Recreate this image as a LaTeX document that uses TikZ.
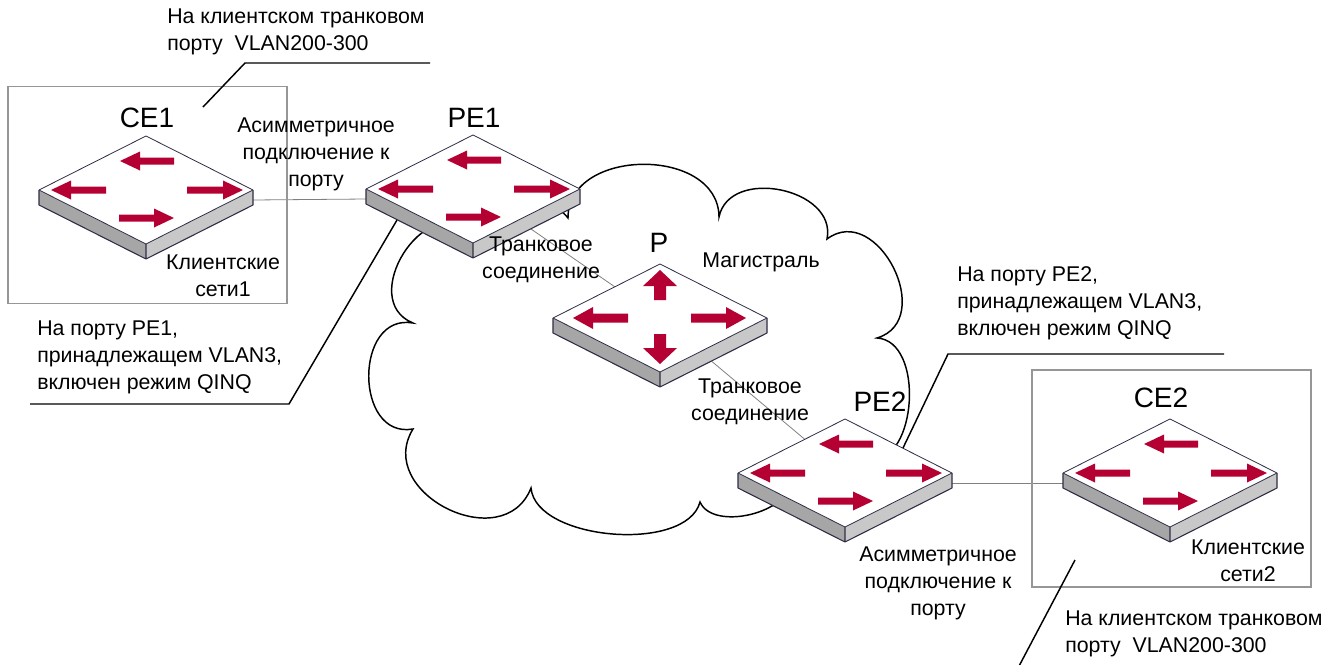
\documentclass[tikz,border=0pt]{standalone}
\usepackage{fontspec}
\setmainfont{Liberation Sans}
\usepackage{tikz}
\usetikzlibrary{positioning,backgrounds}

\definecolor{flowred}{RGB}{180,0,50}
\definecolor{sidedark}{RGB}{166,166,166}
\definecolor{sidelight}{RGB}{200,200,200}
\definecolor{edgeblue}{RGB}{45,45,70}
\definecolor{linkgray}{RGB}{128,128,128}
\definecolor{framegray}{RGB}{150,150,150}

% red flow arrow: tail, angle, length, shaft half width, head half width, head length
\newcommand{\flowarrow}[6]{%
  \fill[flowred, shift={(#1)}, rotate=#2]
    (0,-#4) -- (#3-#6,-#4) -- (#3-#6,-#5) -- (#3,0) -- (#3-#6,#5) -- (#3-#6,#4) -- (0,#4) -- cycle;}

% arrows on access switches
\newcommand{\edgeflows}{%
  \flowarrow{28,-29}{180}{54}{3.5}{9.5}{20}
  \flowarrow{-40,0}{180}{55}{3.5}{9.5}{20}
  \flowarrow{41,0}{0}{56}{3.5}{9.5}{20}
  \flowarrow{-27,28}{0}{55}{3.5}{9.5}{20}}
% arrows on the core switch
\newcommand{\coreflows}{%
  \flowarrow{0,-18}{90}{30}{6}{17}{16}
  \flowarrow{0,16}{-90}{30}{6}{17}{16}
  \flowarrow{-32,0}{180}{55}{4.5}{11}{20}
  \flowarrow{31,0}{0}{55}{4.5}{11}{20}}

\tikzset{
  pics/switch/.style={code={
    \fill[sidedark] (-107,0) -- (0,54) -- (0,69) -- (-107,15) -- cycle;
    \fill[sidelight] (0,54) -- (107,0) -- (107,15) -- (0,69) -- cycle;
    \draw[edgeblue, line width=0.8pt, line join=round]
      (-107,0) -- (-107,15) -- (0,69) -- (107,15) -- (107,0) (0,54) -- (0,69);
    \filldraw[edgeblue, line width=0.6pt, fill=white, line join=round]
      (-107,0) -- (0,-54) -- (107,0) -- (0,54) -- cycle;
    #1
    \coordinate (-c) at (0,0);
    \coordinate (-w) at (-107,10);
    \coordinate (-e) at (107,10);
    \coordinate (-ls) at (-76,31);
    \coordinate (-ne) at (58,-25);
  }}
}

\begin{document}
\begin{tikzpicture}[
    x=0.75pt, y=-0.75pt,
    note/.style={
      font=\fontsize{16}{20.2}\selectfont,
      align=center,
      inner sep=0pt
    },
    devname/.style={
      font=\fontsize{21}{24}\selectfont,
      inner sep=0pt
    },
    clientbox/.style={
      draw=framegray,
      line width=0.8pt,
      minimum width=209.25pt,
      minimum height=162.75pt
    },
    link/.style={draw=linkgray, line width=0.6pt},
    leader/.style={draw=black, line width=1.1pt},
    cloudline/.style={draw=black, line width=1.1pt, line join=miter}
  ]
  \useasboundingbox (0,0) rectangle (1341,664);

  % customer sites
  \node [clientbox] (site1) at (147.5,195) {};
  \node [clientbox] (site2) at (1171.5,478.5) {};

  % backbone cloud
  \draw [cloudline] (413,323)
    to[bend left=100, looseness=1.45] (470,232)
    to[bend left=60] (568,218)
    to[bend left=90, looseness=1.2] (719,217)
    to[bend left=90, looseness=1.2] (827,239)
    to[bend left=100, looseness=1.45] (877,338)
    to[bend left=90] (870,460)
    to[bend left=60] (790,480)
    to[bend left=80, looseness=0.9] (700,502)
    to[bend left=80, looseness=0.8] (531,488)
    to[bend left=95, looseness=1.45] (413,429)
    to[bend left=100, looseness=1.45] (413,323) -- cycle;

  % switches
  \pic (ce1) at (146,190) {switch=\edgeflows};
  \pic (pe1) at (473,189) {switch=\edgeflows};
  \pic (p) at (660,318) {switch=\coreflows};
  \pic (pe2) at (845,473) {switch=\edgeflows};
  \pic (ce2) at (1170,473) {switch=\edgeflows};

  % links
  \begin{scope}[on background layer]
    \draw [link] (ce1-e) -- (pe1-w);
    \draw [link] (pe1-c) -- (p-c);
    \draw [link] (p-c) -- (pe2-c);
    \draw [link] (pe2-e) -- (ce2-w);
  \end{scope}

  % device names
  \node [devname] (ce1name) at (147,118) {CE1};
  \node [devname] (pe1name) at (474,118) {PE1};
  \node [devname] (pname) at (659,243) {P};
  \node [devname] (pe2name) at (880,402) {PE2};
  \node [devname] (ce2name) at (1161,398) {CE2};

  % link and site labels
  \node [note] (asym1) at (316,154) {Асимметричное\\подключение к\\порту};
  \node [note] (lan1) at (223,276) {Клиентские\\сети1};
  \node [note] (trunk1) at (541,260) {Транковое\\соединение};
  \node [note] (backbone) at (761,262) {Магистраль};
  \node [note] (trunk2) at (750,402) {Транковое\\соединение};
  \node [note] (asym2) at (938,583) {Асимметричное\\подключение к\\порту};
  \node [note] (lan2) at (1248,561) {Клиентские\\сети2};

  % port notes
  \node [note, align=left, anchor=west] (trunkport1) at (167,32)
    {На клиентском транковом\\порту\ \ VLAN200-300};
  \node [note, align=left, anchor=west] (qinq1) at (37,357)
    {На порту PE1,\\принадлежащем VLAN3,\\включен режим QINQ};
  \node [note, align=left, anchor=west] (qinq2) at (957,303)
    {На порту PE2,\\принадлежащем VLAN3,\\включен режим QINQ};
  \node [note, align=left, anchor=west] (trunkport2) at (1065,634)
    {На клиентском транковом\\порту\ \ VLAN200-300};

  % leader lines
  \coordinate (k1tip) at (203,107);
  \coordinate (k1) at (245,63);
  \coordinate (k1end) at (430,63);
  \coordinate (k2end) at (30,404);
  \coordinate (k2) at (289,404);
  \coordinate (k3end) at (1224,354);
  \coordinate (k3) at (948,354);
  \coordinate (k4tip) at (1075,560);
  \coordinate (k4end) at (1018,668);
  \draw [leader] (k1tip) -- (k1) -- (k1end);
  \draw [leader] (k2end) -- (k2) -- (pe1-ls);
  \draw [leader] (k3end) -- (k3) -- (pe2-ne);
  \draw [leader] (k4tip) -- (k4end);
\end{tikzpicture}
\end{document}
